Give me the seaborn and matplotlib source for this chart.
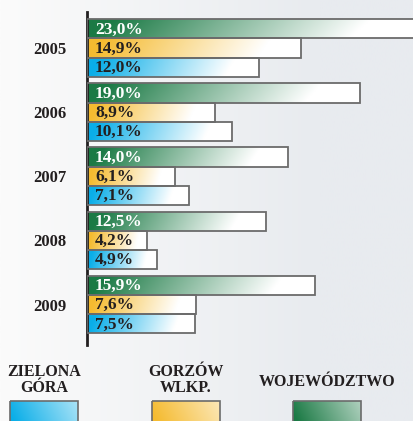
import numpy as np
import pandas as pd
import matplotlib
matplotlib.use("Agg")
import matplotlib.pyplot as plt
from matplotlib.colors import to_rgb
import seaborn as sns

years = ["2005", "2006", "2007", "2008", "2009"]
series = ["WOJEWÓDZTWO", "GORZÓW WLKP.", "ZIELONA GÓRA"]
wojewodztwo = [23.0, 19.0, 14.0, 12.5, 15.9]
gorzow = [14.9, 8.9, 6.1, 4.2, 7.6]
zielona = [12.0, 10.1, 7.1, 4.9, 7.5]
legend_labels = ["ZIELONA\nGÓRA", "GORZÓW\nWLKP.", "WOJEWÓDZTWO"]

colors = {"WOJEWÓDZTWO": "#1b7a45", "GORZÓW WLKP.": "#f5bb30", "ZIELONA GÓRA": "#0aaee8"}
text_colors = {"WOJEWÓDZTWO": "white", "GORZÓW WLKP.": "#231f20", "ZIELONA GÓRA": "#231f20"}

df = pd.DataFrame({
    "year": years * 3,
    "series": [s for s in series for _ in years],
    "value": wojewodztwo + gorzow + zielona,
})

sns.set_style("white")
plt.rcParams["font.family"] = ["Liberation Serif", "DejaVu Serif"]

W, H = 414, 421
fig = plt.figure(figsize=(W / 100, H / 100), dpi=100)

# soft background gradient
bg = fig.add_axes([0, 0, 1, 1], zorder=-10)
gx = np.linspace(0, 1, 200)
grad = np.clip(gx * 1.3, 0, 1)
left, right = np.array(to_rgb("#fbfbfb")), np.array(to_rgb("#e8ebef"))
img = left[None, None, :] * (1 - grad[None, :, None]) + right[None, None, :] * grad[None, :, None]
bg.imshow(img, aspect="auto", extent=[0, 1, 0, 1])
bg.axis("off")


def gradient_fill(ax, patch, color):
    x0, y0 = patch.get_x(), patch.get_y()
    w, h = patch.get_width(), patch.get_height()
    if w <= 0:
        return
    nx, ny = 200, 20
    xs = np.linspace(0, 1, nx)
    ys = np.linspace(0, 1, ny)
    X, Y = np.meshgrid(xs, ys)
    t = np.clip((X - 0.05) / 0.78 + (Y - 0.5) * 0.08, 0, 1)
    c = np.array(to_rgb(color))
    rgb = c[None, None, :] * (1 - t[..., None]) + t[..., None]
    im = ax.imshow(rgb, aspect="auto", extent=[x0, x0 + w, y0 + h, y0],
                   interpolation="bilinear", zorder=2)
    im.set_clip_path(patch)


ax = fig.add_axes([87 / W, (H - 345) / H, (W - 87) / W, 333 / H])
sns.barplot(data=df, x="value", y="year", hue="series", order=years,
            hue_order=series, orient="h", width=0.9, gap=0.0,
            palette=colors, legend=False, ax=ax, zorder=3)

for container, s in zip(ax.containers, series):
    for patch, val in zip(container.patches, df[df.series == s].value):
        patch.set_facecolor("none")
        patch.set_edgecolor("#6b6b6b")
        patch.set_linewidth(1.3)
        gradient_fill(ax, patch, colors[s])
        ax.text(0.55, patch.get_y() + patch.get_height() / 2 + 0.01,
                f"{val:.1f}%".replace(".", ","), va="center", ha="left",
                fontsize=12.5, fontweight="bold", color=text_colors[s], zorder=5)

ax.set_xlim(0, (W - 87) / 14.36)
ax.set_ylim(4.63, -0.5625)
ax.set_facecolor("none")
ax.set_xlabel("")
ax.set_ylabel("")
ax.set_xticks([])
ax.tick_params(axis="y", length=0, pad=15)
for lab in ax.get_yticklabels():
    lab.set_fontsize(12)
    lab.set_fontweight("bold")
    lab.set_color("#231f20")
for sp in ["top", "right", "bottom"]:
    ax.spines[sp].set_visible(False)
ax.spines["left"].set_color("#231f20")
ax.spines["left"].set_linewidth(2)

# legend at the bottom
leg_x = [44, 186, 327]
leg_series = ["ZIELONA GÓRA", "GORZÓW WLKP.", "WOJEWÓDZTWO"]
lax = fig.add_axes([0, 0, 1, 1], zorder=5)
lax.set_xlim(0, W)
lax.set_ylim(H, 0)
lax.axis("off")
for cx, s, lab in zip(leg_x, leg_series, legend_labels):
    y_text = 380 if "\n" in lab else 382
    lax.text(cx, y_text, lab, ha="center", va="center", fontsize=11.5,
             fontweight="bold", color="#231f20", linespacing=0.95)
    box = plt.Rectangle((cx - 34, 401), 68, 24, facecolor="none",
                        edgecolor="#6b6b6b", linewidth=1.2, zorder=3)
    lax.add_patch(box)
    xs = np.linspace(0, 1, 100)
    X, Y = np.meshgrid(xs, np.linspace(0, 1, 20))
    t = np.clip(X * 0.6 - Y * 0.1 + 0.05, 0, 1)
    c = np.array(to_rgb(colors[s]))
    rgb = c[None, None, :] * (1 - t[..., None]) + t[..., None]
    im = lax.imshow(rgb, aspect="auto", extent=[cx - 34, cx + 34, 425, 401], zorder=2)
    im.set_clip_path(box)

lax.set_xlim(0, W)
lax.set_ylim(H, 0)

fig.savefig("out.png", dpi=100)
